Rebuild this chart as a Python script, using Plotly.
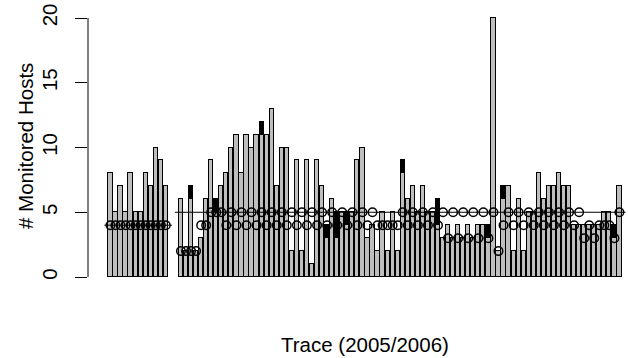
import plotly.graph_objects as go

# ---- data ----
grey_hosts = [8, 5, 7, 5, 8, 5, 5, 8, 7, 10, 9, 7,
              0, 0,
              6, 2, 6, 2, 3, 6,
              9, 5, 7, 8, 10, 11, 8, 11, 10, 11,
              11, 11, 13, 7, 10, 10, 2, 9, 2, 9,
              1, 9, 7, 3, 6, 3, 5, 4, 5, 9,
              10, 3, 4, 2, 5, 2, 5, 2, 8, 6,
              7, 5, 7, 5, 5, 4, 3, 4, 3, 4,
              3, 4, 3, 4, 4, 3, 20, 2, 6, 7,
              2, 6, 2, 5, 5, 8, 6, 7, 7, 8,
              7, 7, 4, 4, 4, 4, 4, 4, 5, 5,
              3, 7]

black_extra = {16: 1, 21: 1, 30: 1, 43: 1, 45: 2, 47: 1, 58: 1,
               65: 2, 75: 1, 78: 1, 100: 1}

circle_hosts = [4, 4, 4, 4, 4, 4, 4, 4, 4, 4, 4, 4,
                None, None,
                2, 2, 2, 2, 4, 4,
                5, 5, 5, 4, 5, 4, 5, 4, 5, 4,
                5, 4, 5, 4, 5, 4, 5, 4, 5, 4,
                5, 4, 5, 4, 5, 4, 5, 4, 5, 4,
                5, 4, 5, 4, 4, 4, 4, 4, 5, 4,
                5, 4, 5, 4, 5, 4, 5, 3, 5, 3,
                5, 3, 5, 3, 5, 3, 5, 2, 4, 5,
                4, 5, 4, 5, 4, 5, 4, 5, 4, 5,
                4, 5, 4, 5, 3, 4, 3, 4, 4, 4,
                3, 5]

# horizontal reference segments: (first bar, last bar, value)
segments = [(0, 11, 4), (14, 101, 5)]

y_ticks = [0, 5, 10, 15, 20]
x_title = "Trace (2005/2006)"
y_title = "# Monitored Hosts"

# ---- figure ----
n = len(grey_hosts)
idx = list(range(n))
black_vals = [black_extra.get(i) for i in idx]
grey_vals = [v if v > 0 else None for v in grey_hosts]

FONT = "Liberation Sans, Arial, Helvetica, sans-serif"
FS = 20.5
bar_w = 1 / 1.2
pad = 1.2

fig = go.Figure()
fig.add_trace(go.Bar(x=idx, y=grey_vals, width=bar_w,
                     marker=dict(color="#BEBEBE", line=dict(color="black", width=1)), showlegend=False))
fig.add_trace(go.Bar(x=idx, y=black_vals, width=bar_w,
                     marker=dict(color="black", line=dict(color="black", width=1)), showlegend=False))

for a, b, v in segments:
    fig.add_trace(go.Scatter(x=[a - pad, b + pad], y=[v, v], mode="lines",
                             line=dict(color="black", width=1), showlegend=False))

fig.add_trace(go.Scatter(x=idx, y=circle_hosts, mode="markers",
                         marker=dict(symbol="circle-open", size=8.5, color="black",
                                     line=dict(width=1.5, color="black")),
                         showlegend=False))

# y axis line from 0 to 20 only (R style)
fig.add_shape(type="line", xref="paper", yref="y", x0=0, x1=0, y0=y_ticks[0], y1=y_ticks[-1],
              line=dict(color="black", width=1))

L, R, T, B = 88, 0, 8, 70
W, H = 628, 358
px_per_bar = 5.04
first_center = 110.4
x0 = (L - first_center) / px_per_bar
x1 = x0 + (W - L - R) / px_per_bar
y_per = 12.95
y_top = 20 + (18 - T) / y_per
y_bot = 0 - (H - B - 277) / y_per

fig.update_layout(
    width=W, height=H, margin=dict(l=L, r=R, t=T, b=B),
    paper_bgcolor="white", plot_bgcolor="white",
    barmode="stack", bargap=0,
    font=dict(family=FONT, size=FS, color="black"),
    xaxis=dict(range=[x0, x1], visible=False, showgrid=False, zeroline=False),
    yaxis=dict(range=[y_bot, y_top], showgrid=False, zeroline=False, showline=False,
               tickmode="array", tickvals=y_ticks, ticktext=[str(t) for t in y_ticks],
               ticks="outside", ticklen=12, tickwidth=1, tickcolor="black",
               tickangle=-90, tickfont=dict(family=FONT, size=FS, color="black"),
               ticklabelstandoff=10),
    annotations=[
        dict(text=x_title, xref="paper", yref="paper", x=(365 - L) / (W - L - R),
             y=(H - B - 344.4) / (H - B - T), xanchor="center", yanchor="middle",
             showarrow=False, font=dict(family=FONT, size=FS, color="black")),
        dict(text=y_title, xref="paper", yref="paper", x=(26.2 - L) / (W - L - R),
             y=(H - B - 145.8) / (H - B - T), xanchor="center", yanchor="middle",
             textangle=-90, showarrow=False, font=dict(family=FONT, size=FS, color="black")),
    ],
)

fig.write_html("out.html", config={"displayModeBar": False},
               post_script="document.body.style.margin='0';document.body.style.overflow='hidden';")
